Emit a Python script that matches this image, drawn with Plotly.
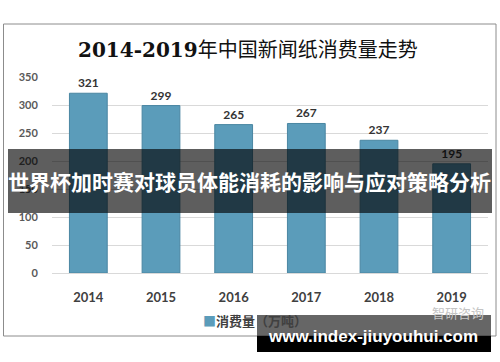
import plotly.graph_objects as go

years = ["2014", "2015", "2016", "2017", "2018", "2019"]
consumption = [321, 299, 265, 267, 237, 195]
series_name = "消费量（万吨）"
title_years = "2014-2019"
title_rest = "年中国新闻纸消费量走势"
banner_text = "世界杯加时赛对球员体能消耗的影响与应对策略分析"
site_text = "www.index-jiuyouhui.com"
source_text = "智研咨询"
y_ticks = [0, 50, 100, 150, 200, 250, 300, 350]

W, H = 500, 362
L, R, T, B = 52, 488, 77, 273


def px(x):
    return (x - L) / (R - L)


def py(y):
    return (B - y) / (B - T)


bar_color = "#5b9cba"
fig = go.Figure()
fig.add_trace(go.Bar(
    x=years, y=consumption, name=series_name,
    marker=dict(color=bar_color, line=dict(color="#4a86a2", width=1)),
    text=consumption, textposition="outside", cliponaxis=False,
    textfont=dict(family="Lato", size=12, color="#333333", weight="bold"),
    showlegend=False, hoverinfo="skip",
))

fig.update_layout(
    width=W, height=H,
    margin=dict(l=L, r=W - R, t=T, b=H - B, pad=0),
    paper_bgcolor="white", plot_bgcolor="white",
    bargap=0.48,
    xaxis=dict(
        showgrid=False, showline=False, zeroline=False,
        ticks="outside", ticklen=12, tickcolor="rgba(0,0,0,0)",
        tickfont=dict(family="Lato", size=13, color="#404040", weight="bold"),
    ),
    yaxis=dict(
        range=[0, 350], tickvals=y_ticks,
        showgrid=True, gridcolor="#d9d9d9", gridwidth=1,
        zeroline=True, zerolinecolor="#d9d9d9", zerolinewidth=1,
        showline=False,
        ticks="outside", ticklen=11, tickcolor="rgba(0,0,0,0)",
        tickfont=dict(family="Lato", size=11, color="#595959", weight="bold"),
    ),
)

shapes = [
    # outer frame
    dict(type="rect", xref="paper", yref="paper",
         x0=px(3.5), x1=px(496), y0=py(24), y1=py(336),
         line=dict(color="#8c8c8c", width=1), fillcolor="rgba(0,0,0,0)", layer="below"),
    # banner
    dict(type="rect", xref="paper", yref="paper",
         x0=px(8), x1=px(492), y0=py(149), y1=py(213),
         line=dict(width=0), fillcolor="rgba(0,0,0,0.63)", layer="above"),
    # site watermark box (translucent part)
    dict(type="rect", xref="paper", yref="paper",
         x0=px(257), x1=px(491), y0=py(315), y1=py(336),
         line=dict(width=0), fillcolor="rgba(0,0,0,0.6)", layer="above"),
    # site watermark box (solid part)
    dict(type="rect", xref="paper", yref="paper",
         x0=px(257), x1=px(491), y0=py(336), y1=py(352),
         line=dict(width=0), fillcolor="black", layer="above"),
]
fig.update_layout(shapes=shapes)

annotations = [
    dict(text=f"<b>{title_years}</b>{title_rest}", xref="paper", yref="paper", x=px(248), y=py(50),
         showarrow=False, xanchor="center", yanchor="middle",
         font=dict(family="DejaVu Serif, Noto Sans CJK SC", size=20, color="#111111")),
    dict(text=f"<span style='color:{bar_color}'>■</span>{series_name}", xref="paper", yref="paper",
         x=px(201), y=py(320), showarrow=False, xanchor="left", yanchor="middle",
         font=dict(family="Noto Sans CJK SC", size=13, color="#404040", weight="bold")),
    dict(text=source_text, xref="paper", yref="paper", x=px(486), y=py(312),
         showarrow=False, xanchor="right", yanchor="middle",
         font=dict(family="Noto Sans CJK SC", size=13, color="#c4c4c4")),
    dict(text=banner_text, xref="paper", yref="paper", x=px(249), y=py(181),
         showarrow=False, xanchor="center", yanchor="middle",
         font=dict(family="Noto Sans CJK SC", size=21, color="white", weight="bold")),
    dict(text=site_text, xref="paper", yref="paper", x=px(373), y=py(336),
         showarrow=False, xanchor="center", yanchor="middle",
         font=dict(family="Liberation Sans", size=17, color="white", weight="bold")),
]
fig.update_layout(annotations=annotations)

fig.write_html("out.html", config={"displayModeBar": False},
               post_script="document.body.style.margin='0';document.body.style.padding='0';")
